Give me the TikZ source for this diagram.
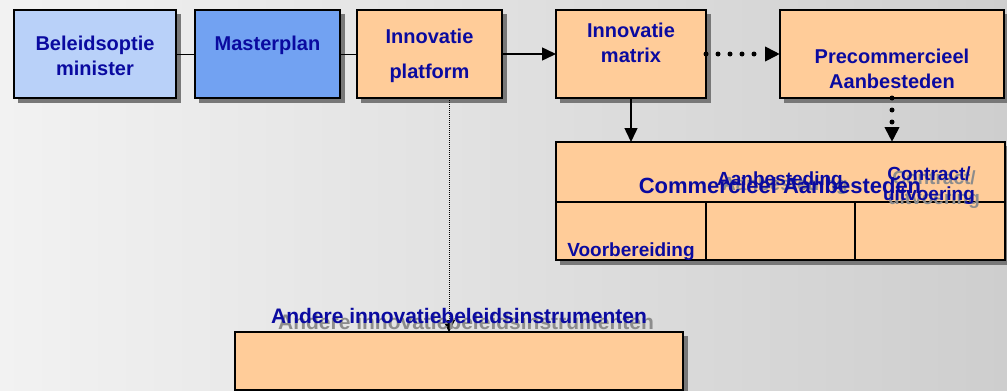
\documentclass[tikz,border=0pt]{standalone}
\usepackage{fontspec}
\setmainfont{Liberation Sans}
\usetikzlibrary{arrows.meta,calc}
\definecolor{tblue}{RGB}{10,10,160}
\definecolor{lblue}{RGB}{185,209,249}
\definecolor{mblue}{RGB}{114,162,242}
\definecolor{orng}{RGB}{255,204,153}
\definecolor{shdw}{RGB}{120,120,120}
\definecolor{txtgray}{RGB}{140,140,140}
\definecolor{bgl}{RGB}{242,242,242}
\definecolor{bgr}{RGB}{206,206,206}
\tikzset{
  box/.style={draw=black, line width=1.4pt, inner sep=0pt, outer sep=0pt, minimum height=88pt},
  shline/.style={draw=shdw, line width=4.4pt, line cap=butt},
  txt/.style={text=tblue, font=\bfseries\fontsize{20}{24}\selectfont, anchor=base, inner sep=0pt},
  sh/.style={text=txtgray},
  sarrow/.style={line width=1.5pt, -{Triangle[length=14pt,width=13pt]}},
  darrow/.style={line width=5pt, line cap=round, dash pattern=on 0pt off 12pt, -{Triangle[length=15pt,width=14pt]}},
  farrow/.style={line width=1pt, dash pattern=on 1pt off 1pt, -{Triangle[length=12pt,width=12pt]}},
}
\begin{document}
\begin{tikzpicture}[x=1pt,y=-1pt]
\useasboundingbox (0,0) rectangle (1007,391);
\shade[left color=bgl, right color=bgr] (0,0) rectangle (1007,391);

% boxes
\node[box, fill=lblue, minimum width=162pt] (b1) at (95,54) {};
\node[box, fill=mblue, minimum width=145pt] (b2) at (267.5,54) {};
\node[box, fill=orng, minimum width=145pt] (b3) at (429.5,54) {};
\node[box, fill=orng, minimum width=150pt] (b4) at (631,54) {};
\node[box, fill=orng, minimum width=224pt] (b5) at (892,54) {};
\node[box, fill=orng, minimum width=449pt, minimum height=118pt] (c) at (780.5,201) {};
\node[box, fill=orng, minimum width=448pt, minimum height=58pt] (a) at (459,361) {};

% box shadows as thick grey bands right and below each box
\foreach \n in {b1,b2,b3,b4,b5,c,a} {
  \draw[shline] ($(\n.north east)+(3,4)$) -- ($(\n.south east)+(3,5)$);
  \draw[shline] ($(\n.south west)+(4,3)$) -- ($(\n.south east)+(5.2,3)$);
}

% dividers in commercieel box
\coordinate (dl) at (556,202);
\coordinate (dr) at (1005,202);
\coordinate (v1) at (706,202);
\coordinate (v2) at (855,202);
\draw[line width=1.4pt] (dl) -- (dr);
\draw[line width=1.4pt] (v1) -- (v1 |- c.south);
\draw[line width=1.4pt] (v2) -- (v2 |- c.south);

% connectors
\draw[line width=1pt] (b1.east) -- (b2.west);
\draw[line width=1pt] (b2.east) -- (b3.west);
\draw[sarrow] (b3.east) -- (b4.west);
\draw[darrow] (b4.east) -- (b5.west);
\draw[sarrow] (b4.south) -- (b4.south |- c.north);
\draw[darrow] (b5.south) -- (b5.south |- c.north);
\path (b3.south) ++(19.5,0) coordinate (pd);
\draw[farrow] (pd) -- (pd |- a.north);

% texts
\node[txt] (t1a) at (95,50) {Beleidsoptie};
\node[txt] (t1b) at (95,75) {minister};
\node[txt] (t2) at (267.5,50) {Masterplan};
\node[txt] (t3a) at (429.5,43) {Innovatie};
\node[txt] (t3b) at (429.5,78) {platform};
\node[txt] (t4a) at (631,37) {Innovatie};
\node[txt] (t4b) at (631,62) {matrix};
\node[txt] (t5a) at (892,63) {Precommercieel};
\node[txt] (t5b) at (892,88) {Aanbesteden};

% shadow texts
\node[txt, sh, font=\bfseries\fontsize{19}{23}\selectfont] (s6) at (785,190) {Aanbesteding};
\node[txt, sh, font=\bfseries\fontsize{19}{23}\selectfont] (s7a) at (934,184) {Contract/};
\node[txt, sh, font=\bfseries\fontsize{19}{23}\selectfont] (s7b) at (934,204) {uitvoering};
\node[txt, sh, font=\bfseries\fontsize{21}{25}\selectfont] (s8) at (466,329) {Andere innovatiebeleidsinstrumenten};

\node[txt, font=\bfseries\fontsize{22}{26}\selectfont] (tc) at (780,193) {Commercieel Aanbesteden};
\node[txt, font=\bfseries\fontsize{19}{23}\selectfont] (t6) at (780,185) {Aanbesteding};
\node[txt, font=\bfseries\fontsize{19}{23}\selectfont] (t7a) at (929,180) {Contract/};
\node[txt, font=\bfseries\fontsize{19}{23}\selectfont] (t7b) at (929,200) {uitvoering};
\node[txt, font=\bfseries\fontsize{19}{23}\selectfont] (t8) at (631,256) {Voorbereiding};
\node[txt, font=\bfseries\fontsize{21}{25}\selectfont] (t9) at (459,323) {Andere innovatiebeleidsinstrumenten};
\end{tikzpicture}
\end{document}
